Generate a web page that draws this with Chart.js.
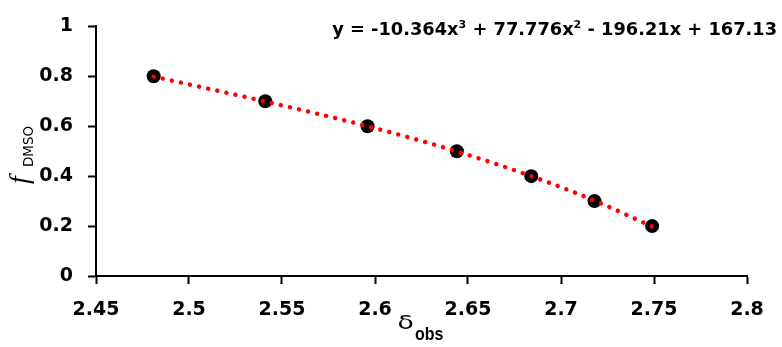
<!DOCTYPE html>
<html>
<head>
<meta charset="utf-8">
<script src="https://cdn.jsdelivr.net/npm/chart.js@4/dist/chart.umd.min.js"></script>
<style>
  html, body { margin: 0; padding: 0; background: #fff; }
  #wrap { width: 782px; height: 347px; }
</style>
</head>
<body>
<div id="wrap"><canvas id="c" width="782" height="347"></canvas></div>
<script>
// ---- data ----
const deltaObs = [2.481, 2.541, 2.596, 2.644, 2.684, 2.718, 2.749];
const fDMSO    = [0.8, 0.7, 0.6, 0.5, 0.4, 0.3, 0.2];
// trendline (polynomial fit) values at the same x positions
const trendFit = [0.799, 0.699, 0.600, 0.499, 0.400, 0.302, 0.198];
const xTicks = [2.45, 2.5, 2.55, 2.6, 2.65, 2.7, 2.75, 2.8];
const yTicks = [0, 0.2, 0.4, 0.6, 0.8, 1];
const equationParts = [
  ["y = -10.364x", false], ["3", true], [" + 77.776x", false], ["2", true],
  [" - 196.21x + 167.13", false]
];

const pointsData = deltaObs.map((x, i) => ({ x: x, y: fDMSO[i] }));
const trendData  = deltaObs.map((x, i) => ({ x: x, y: trendFit[i] }));

const SANS = '"DejaVu Sans", Verdana, sans-serif';
const ARIAL = '"Liberation Sans", Arial, sans-serif';
const SERIF = '"Liberation Serif", "DejaVu Serif", serif';

// draw text so that its glyph box fills the given box
function fitText(ctx, text, font, left, top, w, h) {
  ctx.font = font;
  const m = ctx.measureText(text);
  const gw = m.actualBoundingBoxLeft + m.actualBoundingBoxRight;
  const gh = m.actualBoundingBoxAscent + m.actualBoundingBoxDescent;
  const sx = w / gw, sy = h / gh;
  ctx.save();
  ctx.translate(left + m.actualBoundingBoxLeft * sx, top + m.actualBoundingBoxAscent * sy);
  ctx.scale(sx, sy);
  ctx.fillText(text, 0, 0);
  ctx.restore();
}

const textPlugin = {
  id: 'customText',
  afterDraw(chart) {
    const ctx = chart.ctx;
    ctx.save();
    ctx.fillStyle = '#000';
    ctx.textBaseline = 'alphabetic';
    ctx.textAlign = 'left';

    // equation (right aligned)
    const mainFont = 'bold 17.8px ' + SANS;
    const supFont = 'bold 11px ' + SANS;
    let total = 0;
    equationParts.forEach(([t, sup]) => {
      ctx.font = sup ? supFont : mainFont;
      total += ctx.measureText(t).width;
    });
    let x = 777 - total;
    const base = 35;
    equationParts.forEach(([t, sup]) => {
      ctx.font = sup ? supFont : mainFont;
      ctx.fillText(t, x, sup ? base - 7 : base);
      x += ctx.measureText(t).width;
    });

    // x-axis title: δ_obs
    fitText(ctx, 'δ', '19px ' + SANS, 399, 315, 14, 14);
    fitText(ctx, 'obs', 'bold 17px ' + ARIAL, 415, 327, 28, 13);

    // y-axis title: f_DMSO (rotated, reading bottom to top)
    ctx.save();
    ctx.rotate(-Math.PI / 2);
    // local (u, v) -> screen (x = v, y = -u)
    ctx.font = 'italic 28px ' + SERIF;
    ctx.fillText('f', -184, 28);
    fitText(ctx, 'DMSO', '13px ' + SANS, -166, 23, 40, 10);
    ctx.restore();
    ctx.restore();
  }
};

new Chart(document.getElementById('c'), {
  type: 'scatter',
  data: {
    datasets: [
      {
        label: 'trend',
        data: trendData,
        showLine: true,
        cubicInterpolationMode: 'monotone',
        borderColor: '#ff0000',
        borderWidth: 4.5,
        borderDash: [0.01, 9.3],
        borderCapStyle: 'round',
        pointRadius: 0,
        pointHoverRadius: 0,
        fill: false,
        order: 0
      },
      {
        label: 'data',
        data: pointsData,
        showLine: false,
        pointRadius: 7,
        pointBackgroundColor: '#000',
        pointBorderColor: '#000',
        pointBorderWidth: 0,
        order: 1
      }
    ]
  },
  options: {
    responsive: false,
    animation: false,
    events: [],
    layout: { padding: { left: 0, top: 14, right: 35, bottom: 0 } },
    plugins: { legend: { display: false }, tooltip: { enabled: false }, title: { display: false } },
    scales: {
      x: {
        type: 'linear',
        min: 2.45, max: 2.8,
        afterBuildTicks: (s) => { s.ticks = xTicks.map(v => ({ value: v })); },
        afterFit: (s) => { s.height = 71; },
        border: { display: true, color: '#000', width: 2 },
        grid: { display: true, drawOnChartArea: false, drawTicks: true, tickLength: 8, tickWidth: 2, tickColor: '#000', color: '#000' },
        ticks: {
          color: '#000',
          font: { family: SANS, size: 19, weight: 'bold' },
          padding: 15,
          maxRotation: 0,
          autoSkip: false,
          callback: (v) => String(v)
        }
      },
      y: {
        type: 'linear',
        min: 0, max: 1,
        afterBuildTicks: (s) => { s.ticks = yTicks.map(v => ({ value: v })); },
        afterFit: (s) => { s.width = 96; },
        border: { display: true, color: '#000', width: 2 },
        grid: { display: true, drawOnChartArea: false, drawTicks: true, tickLength: 8, tickWidth: 2, tickColor: '#000', color: '#000' },
        ticks: {
          color: '#000',
          font: { family: SANS, size: 19, weight: 'bold' },
          padding: 15,
          autoSkip: false,
          callback: (v) => String(v)
        }
      }
    }
  },
  plugins: [textPlugin]
});
</script>
</body>
</html>
